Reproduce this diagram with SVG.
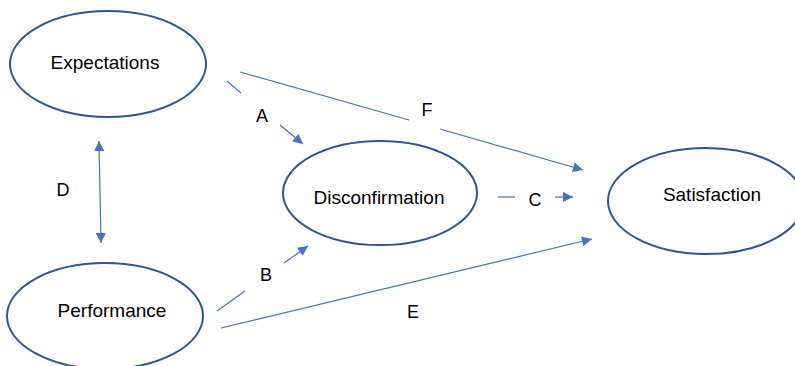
<svg xmlns="http://www.w3.org/2000/svg" width="795" height="366" viewBox="0 0 795 366">
<style>
.node{fill:#fff;stroke:#2F5597;stroke-width:2}
.lbl{font-family:"Liberation Sans",Arial,sans-serif;font-size:18px;fill:#000;text-anchor:middle}
.big{font-size:19px}
.ln{fill:none;stroke:#4472C4;stroke-width:1.2}
</style>
<defs>
<marker id="ah" viewBox="0 0 10 10" refX="10" refY="5" markerWidth="11" markerHeight="10" markerUnits="userSpaceOnUse" orient="auto-start-reverse">
<path d="M0,0 L10,5 L0,10 Z" fill="#4472C4"/>
</marker>
</defs>
<rect width="795" height="366" fill="#fff"/>
<g id="expectations">
<ellipse class="node" cx="108" cy="64" rx="98" ry="53"/>
<text class="lbl big" x="105" y="69">Expectations</text>
</g>
<g id="disconfirmation">
<ellipse class="node" cx="380" cy="193" rx="97" ry="52"/>
<text class="lbl big" x="379" y="204">Disconfirmation</text>
</g>
<g id="performance">
<ellipse class="node" cx="105" cy="316" rx="98" ry="53"/>
<text class="lbl big" x="112" y="317">Performance</text>
</g>
<g id="satisfaction">
<ellipse class="node" cx="706" cy="201" rx="98" ry="53"/>
<text class="lbl big" x="712" y="201">Satisfaction</text>
</g>
<g id="connectors">
<line class="ln" x1="227" y1="81" x2="241" y2="93"/>
<line class="ln" x1="280" y1="125" x2="303" y2="144" marker-end="url(#ah)"/>
<line class="ln" x1="240" y1="72" x2="409" y2="120"/>
<line class="ln" x1="440" y1="129" x2="583" y2="170" marker-end="url(#ah)"/>
<line class="ln" x1="498" y1="197" x2="515" y2="197"/>
<line class="ln" x1="555" y1="197" x2="573" y2="197" marker-end="url(#ah)"/>
<line class="ln" x1="217" y1="311" x2="245" y2="291"/>
<line class="ln" x1="284" y1="263" x2="308" y2="246" marker-end="url(#ah)"/>
<line class="ln" x1="221" y1="328" x2="592" y2="239" marker-end="url(#ah)"/>
<line class="ln" x1="99" y1="141" x2="101" y2="243" marker-start="url(#ah)" marker-end="url(#ah)"/>
<text class="lbl" x="262" y="122">A</text>
<text class="lbl" x="427" y="116">F</text>
<text class="lbl" x="535" y="206">C</text>
<text class="lbl" x="266" y="281">B</text>
<text class="lbl" x="413" y="318">E</text>
<text class="lbl" x="63" y="196">D</text>
</g>
</svg>
